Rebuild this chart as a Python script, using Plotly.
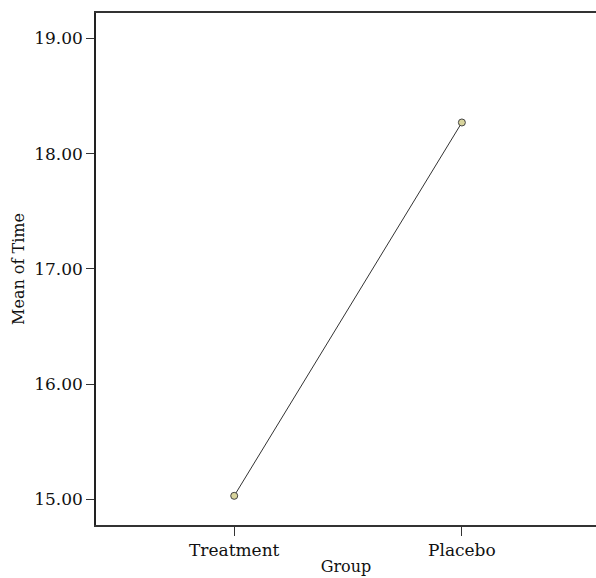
import plotly.graph_objects as go

groups = ["Treatment", "Placebo"]
mean_time = [15.03, 18.27]
y_tick_vals = [15, 16, 17, 18, 19]
y_tick_text = ["15.00", "16.00", "17.00", "18.00", "19.00"]

font_family = "DejaVu Serif"

fig = go.Figure()
fig.add_trace(go.Scatter(
    x=groups, y=mean_time, mode="lines+markers",
    line=dict(color="#333333", width=1),
    marker=dict(size=7, color="#d8d49c", line=dict(color="#444444", width=1)),
    showlegend=False,
))

fig.update_layout(
    width=596, height=578,
    margin=dict(l=96, r=0, t=13, b=53),
    paper_bgcolor="white", plot_bgcolor="white",
    font=dict(family=font_family, size=16, color="#111111"),
    xaxis=dict(
        type="category", range=[-0.607, 1.589],
        showline=True, linecolor="#333333", linewidth=1.5, mirror=True,
        ticks="outside", ticklen=9, tickcolor="#333333", tickwidth=1,
        showgrid=False, zeroline=False,
        title=dict(text="Group", standoff=2, font=dict(size=16)),
        tickfont=dict(size=17),
    ),
    yaxis=dict(
        range=[14.777, 19.22],
        tickvals=y_tick_vals, ticktext=y_tick_text,
        showline=True, linecolor="#222222", linewidth=1.5, mirror=False,
        ticks="outside", ticklen=8, tickcolor="#333333", tickwidth=1,
        showgrid=False, zeroline=False,
        title=dict(text="Mean of Time", standoff=6, font=dict(size=16)),
        tickfont=dict(size=17),
    ),
)

fig.write_html("out.html", config={"displayModeBar": False},
               post_script="document.body.style.margin='0';")
